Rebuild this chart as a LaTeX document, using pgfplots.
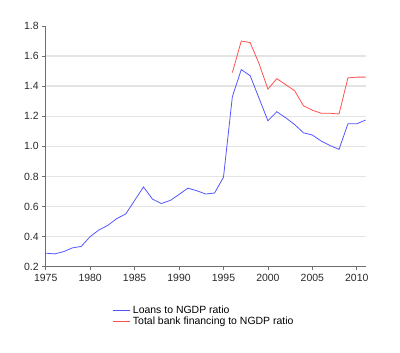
\documentclass[border=0pt]{standalone}
\usepackage{pgfplots}
\pgfplotsset{compat=1.18}
\usepackage{fontspec}
\setmainfont{Liberation Sans}
\definecolor{lblue}{RGB}{85,85,255}
\definecolor{lred}{RGB}{255,80,80}
\definecolor{gridc}{RGB}{228,228,228}
\definecolor{axc}{RGB}{110,110,110}
\definecolor{txt}{RGB}{40,40,40}
\begin{document}
\begin{tikzpicture}[x=1bp,y=1bp]
\path[use as bounding box] (0,0) rectangle (400,353);
\begin{axis}[
  at={(45.7bp,86.3bp)}, anchor=south west,
  scale only axis, width=320bp, height=240.7bp,
  xmin=1975, xmax=2011, ymin=0.2, ymax=1.8,
  xtick={1975,1980,...,2010}, ytick={0.4,0.6,...,1.61},
  extra y ticks={0.2,1.8},
  extra y tick style={grid=none},
  ymajorgrids,
  grid style={gridc, line width=1.4pt},
  axis x line*=bottom, axis y line*=left,
  axis line style={axc, line width=1pt},
  tick align=outside, major tick length=3.5bp,
  tick style={axc, line width=0.8pt},
  xticklabel style={/pgf/number format/1000 sep={}, font=\fontsize{10.5}{12}\selectfont, text=txt},
  yticklabel style={/pgf/number format/.cd, fixed, fixed zerofill, precision=1, /tikz/.cd, font=\fontsize{10.5}{12}\selectfont, text=txt},
  /pgf/number format/assume math mode=true,
  legend style={at={(0.2,-0.145)}, anchor=north west, draw=none, fill=none,
    font=\fontsize{10.5}{12}\selectfont, row sep=-2pt,
    /tikz/every even column/.append style={column sep=2pt}},
  legend cell align=left,
]
\addlegendimage{draw=lblue, line width=0.9pt}
\addlegendentry{Loans to NGDP ratio}
\addlegendimage{draw=lred, line width=1.1pt}
\addlegendentry{Total bank financing to NGDP ratio}
\addplot[forget plot, draw=lblue, line width=0.8pt, mark=none] coordinates {
(1975,0.29) (1976,0.285) (1977,0.30) (1978,0.325) (1979,0.335) (1980,0.40)
(1981,0.445) (1982,0.475) (1983,0.52) (1984,0.55) (1985,0.64) (1986,0.73)
(1987,0.65) (1988,0.62) (1989,0.64) (1990,0.68) (1991,0.722) (1992,0.705)
(1993,0.683) (1994,0.69) (1995,0.795) (1996,1.33) (1997,1.51) (1998,1.47)
(1999,1.32) (2000,1.17) (2001,1.23) (2002,1.19) (2003,1.145) (2004,1.09)
(2005,1.075) (2006,1.035) (2007,1.005) (2008,0.98) (2009,1.15) (2010,1.15)
(2011,1.175)
};
\addplot[forget plot, draw=lred, line width=0.8pt, mark=none] coordinates {
(1996,1.49) (1997,1.70) (1998,1.69) (1999,1.55) (2000,1.38) (2001,1.45)
(2002,1.41) (2003,1.37) (2004,1.27) (2005,1.24) (2006,1.22) (2007,1.22)
(2008,1.215) (2009,1.455) (2010,1.46) (2011,1.46)
};
\end{axis}
\end{tikzpicture}
\end{document}
